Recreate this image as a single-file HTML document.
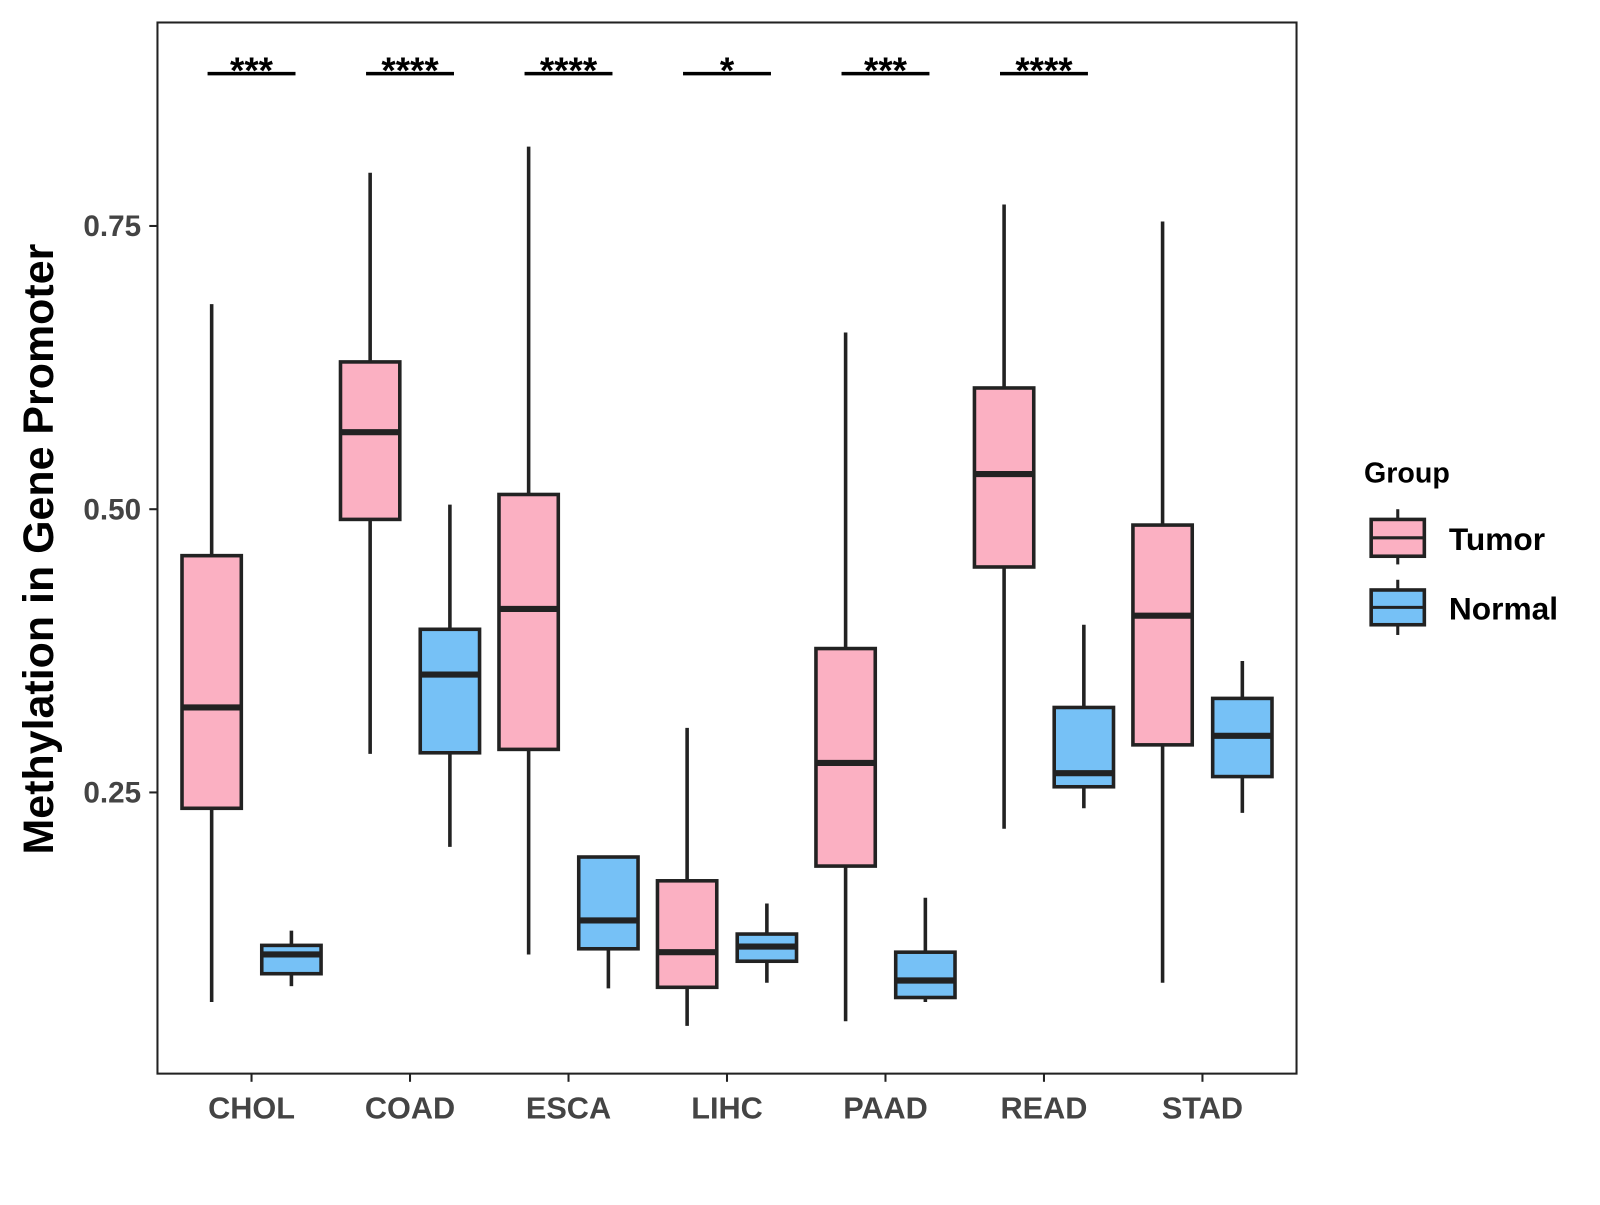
<!DOCTYPE html>
<html><head><meta charset="utf-8"><style>
body{margin:0;background:#fff}
svg text{font-family:"Liberation Sans",Arial,sans-serif;font-weight:bold}
</style></head><body>
<svg id="chart" width="1600" height="1200" xmlns="http://www.w3.org/2000/svg">
<rect x="0" y="0" width="1600" height="1200" fill="#fff"/>
<g transform="scale(1.0225)">
<rect x="154" y="22" width="1114" height="1028" fill="none" stroke="#222" stroke-width="2"/>
<g id="marks"></g>
<text x="52" y="537" font-size="42" fill="#000" text-anchor="middle" transform="rotate(-90 52 537)">Methylation in Gene Promoter</text>
<g>
<text x="1334" y="472" font-size="28" fill="#000">Group</text>
<g>
<line x1="1367" y1="498" x2="1367" y2="552" stroke="#222" stroke-width="3"/>
<rect x="1341" y="508" width="52" height="36" fill="#fbb0c2" stroke="#222" stroke-width="3.5"/>
<line x1="1341" y1="526" x2="1393" y2="526" stroke="#222" stroke-width="3"/>
<text x="1417" y="538" font-size="31" fill="#000">Tumor</text></g>
<g>
<line x1="1367" y1="567" x2="1367" y2="621" stroke="#222" stroke-width="3"/>
<rect x="1341" y="577" width="52" height="34" fill="#76c1f6" stroke="#222" stroke-width="3.5"/>
<line x1="1341" y1="594" x2="1393" y2="594" stroke="#222" stroke-width="3"/>
<text x="1417" y="606" font-size="31" fill="#000">Normal</text></g>
</g>
</g>
</svg>
<script>
const categories=["CHOL","COAD","ESCA","LIHC","PAAD","READ","STAD"];
const tumorStats=[[0.065,0.236,0.325,0.459,0.681],[0.284,0.491,0.568,0.630,0.797],[0.107,0.288,0.412,0.513,0.820],[0.044,0.078,0.109,0.172,0.307],[0.048,0.185,0.276,0.377,0.656],[0.218,0.449,0.531,0.607,0.769],[0.082,0.292,0.406,0.486,0.754]];
const normalStats=[[0.079,0.090,0.107,0.115,0.128],[0.202,0.285,0.354,0.394,0.504],[0.077,0.112,0.137,0.193,0.193],[0.082,0.101,0.114,0.125,0.152],[0.065,0.069,0.084,0.109,0.157],[0.236,0.255,0.267,0.325,0.398],[0.232,0.264,0.300,0.333,0.366]];
const signif=["***","****","****","*","***","****",""];
const yTicks=[0.25,0.50,0.75];
const NS="http://www.w3.org/2000/svg";
const g=document.getElementById('marks');
function y(v){return 498-(v-0.5)*1108;}
function x(i){return 246+i*155;}
function el(t,a,p){const e=document.createElementNS(NS,t);for(const k in a)e.setAttribute(k,a[k]);(p||g).appendChild(e);return e;}
yTicks.forEach(t=>{
 const l=el('line',{x1:146,x2:154,y1:y(t),y2:y(t),stroke:'#222','stroke-width':2});
 
 
 const tx=el('text',{x:138,y:y(t)+10,'font-size':29,fill:'#444','text-anchor':'end'});
 tx.textContent=t.toFixed(2);
 
 
});
function box(s,cx,fill,name){
 const grp=el('g',{});
 
 
 el('line',{x1:cx,x2:cx,y1:y(s[4]),y2:y(s[0]),stroke:'#222','stroke-width':3.5},grp);
 el('rect',{x:cx-29,width:58,y:y(s[3]),height:y(s[1])-y(s[3]),fill:fill,stroke:'#222','stroke-width':3.5},grp);
 el('line',{x1:cx-29,x2:cx+29,y1:y(s[2]),y2:y(s[2]),stroke:'#222','stroke-width':6},grp);
}
categories.forEach((c,i)=>{
 const cx=x(i);
 box(tumorStats[i],cx-39,'#fbb0c2','box-tumor-'+c.toLowerCase());
 box(normalStats[i],cx+39,'#76c1f6','box-normal-'+c.toLowerCase());
 const tk=el('line',{x1:cx,x2:cx,y1:1050,y2:1058,stroke:'#222','stroke-width':2});
 
 
 const lb=el('text',{x:cx,y:1094,'font-size':30,fill:'#444','text-anchor':'middle'});
 lb.textContent=c;
 
 
 if(signif[i]){
  const sl=el('line',{x1:cx-43,x2:cx+43,y1:72,y2:72,stroke:'#000','stroke-width':3.5});
  
  
  const st=el('text',{x:cx,y:81,'font-size':36,fill:'#000','text-anchor':'middle'});
  st.textContent=signif[i];
  
  
 }
});
</script>
</body></html>
